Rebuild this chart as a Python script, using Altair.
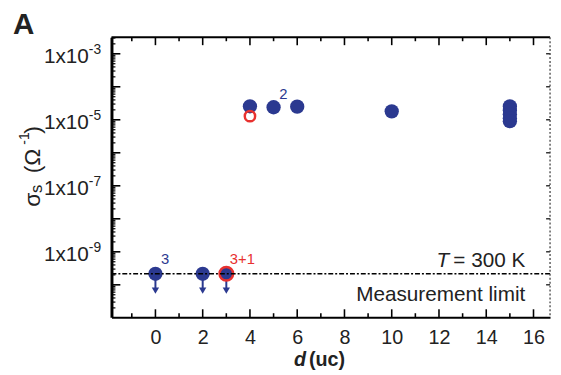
import altair as alt
import pandas as pd

W, H = 445, 284
NAVY = "#2b3990"
RED = "#e8312f"
INK = "#222222"
FONT = "Liberation Sans"

# ---- data ----
d_film = [4, 5, 6, 10, 15, 15, 15, 15, 15]
sigma_film = [2.56e-5, 2.4e-5, 2.5e-5, 1.8e-5, 2.56e-5, 1.95e-5, 1.48e-5, 1.12e-5, 9.1e-6]
d_open = [4]
sigma_open = [1.29e-5]
d_limit = [0, 2, 3]
limit_value = 2.16e-10
arrow_tip = 6.7e-11
d_limit_ring = [3]

point_label_text = ["3", "3+1", "2"]
point_label_x = [0.24, 3.15, 5.24]
point_label_y = [6.05e-10, 6.05e-10, 5.85e-5]
point_label_color = [NAVY, RED, NAVY]

x_major = [0, 2, 4, 6, 8, 10, 12, 14, 16]
x_minor = [-1, 1, 3, 5, 7, 9, 11, 13, 15]
y_label_vals = [1e-3, 1e-5, 1e-7, 1e-9]
y_label_exp = ["-3", "-5", "-7", "-9"]
y_decades = [1e-3, 1e-4, 1e-5, 1e-6, 1e-7, 1e-8, 1e-9, 1e-10]
Y_LO, Y_HI = 10 ** -10.98, 10 ** -2.5
y_minor = [k * 10.0 ** e for e in range(-11, -2) for k in range(2, 10)
           if Y_LO <= k * 10.0 ** e <= Y_HI]

xs = alt.Scale(domain=[-1.86, 16.7], nice=False, zero=False)
ys = alt.Scale(type="log", domain=[Y_LO, Y_HI], nice=False)

XA = alt.Axis(values=x_major, ticks=False, grid=False, domain=True, domainWidth=2,
              domainColor="black", labelFontSize=20, labelFont=FONT, labelColor=INK,
              labelPadding=11, title=None, format="d")
YA = alt.Axis(labels=False, ticks=False, grid=False, domain=True, domainWidth=3,
              domainColor="black", title=None)


def X(f):
    return alt.X(f, scale=xs, axis=XA)


def Y(f):
    return alt.Y(f, scale=ys, axis=YA)


film = pd.DataFrame({"d": d_film, "s": sigma_film})
opn = pd.DataFrame({"d": d_open, "s": sigma_open})
lim = pd.DataFrame({"d": d_limit, "s": [limit_value] * len(d_limit), "t": [arrow_tip] * len(d_limit)})
ring = pd.DataFrame({"d": d_limit_ring, "s": [limit_value] * len(d_limit_ring)})
plabels = pd.DataFrame({"txt": point_label_text, "x": point_label_x, "y": point_label_y, "c": point_label_color})

dots = alt.Chart(film).mark_circle(size=210, color=NAVY, opacity=1).encode(x=X("d:Q"), y=Y("s:Q"))
open_ring = alt.Chart(opn).mark_point(shape="circle", filled=False, size=110, color=RED,
                                      strokeWidth=2.5, opacity=1).encode(x=X("d:Q"), y=Y("s:Q"))

arrows = alt.Chart(lim).mark_rule(color=NAVY, strokeWidth=2).encode(x=X("d:Q"), y=Y("s:Q"), y2="t:Q")
heads = alt.Chart(lim).mark_point(shape="triangle-down", filled=True, size=55, color=NAVY,
                                  opacity=1).encode(x=X("d:Q"), y=Y("t:Q"))
lim_dots = alt.Chart(lim).mark_circle(size=210, color=NAVY, opacity=1).encode(x=X("d:Q"), y=Y("s:Q"))
lim_ring = alt.Chart(ring).mark_point(shape="circle", filled=False, size=190, color=RED,
                                      strokeWidth=2.5, opacity=1).encode(x=X("d:Q"), y=Y("s:Q"))

dash = alt.Chart(pd.DataFrame({"s": [limit_value]})).mark_rule(
    color="black", strokeWidth=1.6, strokeDash=[5, 2, 2, 2]).encode(
    y=Y("s:Q"), x=alt.value(0), x2=alt.value(W))

pl = alt.Chart(plabels).mark_text(align="left", baseline="middle", fontSize=15, font=FONT).encode(
    x=X("x:Q"), y=Y("y:Q"), text="txt:N", color=alt.Color("c:N", scale=None))

# annotations
ann = pd.DataFrame({"x": [11.9], "y": [5.3e-10]})
t_italic = alt.Chart(ann).mark_text(align="left", baseline="middle", fontSize=21, font=FONT,
                                    fontStyle="italic", color=INK, text="T").encode(x=X("x:Q"), y=Y("y:Q"))
ann2 = pd.DataFrame({"x": [15.65], "y": [5.3e-10]})
t_rest = alt.Chart(ann2).mark_text(align="right", baseline="middle", fontSize=21, font=FONT,
                                   color=INK, text="= 300 K").encode(x=X("x:Q"), y=Y("y:Q"))
ann3 = pd.DataFrame({"x": [15.65], "y": [4.8e-11]})
meas = alt.Chart(ann3).mark_text(align="right", baseline="middle", fontSize=21, font=FONT,
                                 color=INK, text="Measurement limit").encode(x=X("x:Q"), y=Y("y:Q"))

# y tick labels with superscripts
ylab = pd.DataFrame({"v": y_label_vals, "e": y_label_exp})
ylab_main = alt.Chart(ylab).mark_text(align="right", baseline="middle", dy=3, fontSize=21,
                                      font=FONT, color=INK, text="1x10").encode(
    y=Y("v:Q"), x=alt.value(-23))
ylab_exp = alt.Chart(ylab).mark_text(align="left", baseline="middle", dy=-4, fontSize=14,
                                     font=FONT, color=INK).encode(
    y=Y("v:Q"), x=alt.value(-23), text="e:N")

# x title: italic d + (uc)
xt = pd.DataFrame({"x": [5.86]})
xt_d = alt.Chart(xt).mark_text(align="left", baseline="alphabetic", fontSize=20, font=FONT,
                               fontWeight="bold", fontStyle="italic", color=INK, text="d").encode(
    x=X("x:Q"), y=alt.value(H + 50))
xt2 = pd.DataFrame({"x": [6.5]})
xt_uc = alt.Chart(xt2).mark_text(align="left", baseline="alphabetic", fontSize=20, font=FONT,
                                 fontWeight="bold", color=INK, text="(uc)").encode(
    x=X("x:Q"), y=alt.value(H + 50))


# y title pieces (rotated)
def rot(txt, x, y, size):
    return alt.Chart(pd.DataFrame({"k": [0]})).mark_text(
        align="left", baseline="alphabetic", angle=270, fontSize=size, font=FONT,
        color=INK, text=txt).encode(x=alt.value(x), y=alt.value(y))


ytitle = [rot("σ", -73, 172, 23), rot("s", -70, 158, 17), rot("(Ω", -73, 138, 23),
          rot("-1", -84, 109, 14), rot(")", -73, 98, 23)]

panel = alt.Chart(pd.DataFrame({"k": [0]})).mark_text(
    align="left", baseline="alphabetic", fontSize=30, font=FONT, fontWeight="bold",
    color=INK, text="A").encode(x=alt.value(-100), y=alt.value(-3))


# inward ticks
def xticks(vals, y0, y1):
    return alt.Chart(pd.DataFrame({"v": vals})).mark_rule(color="black", strokeWidth=1.6).encode(
        x=X("v:Q"), y=alt.value(y0), y2=alt.value(y1))


def yticks(vals, x0, x1, sw=1.6):
    return alt.Chart(pd.DataFrame({"v": vals})).mark_rule(color="black", strokeWidth=sw).encode(
        y=Y("v:Q"), x=alt.value(x0), x2=alt.value(x1))


ticks = [xticks(x_major, H, H - 8), xticks(x_minor, H, H - 4),
         xticks(x_major, 0, 8), xticks(x_minor, 0, 4),
         yticks(y_decades, 0, 9), yticks(y_minor, 0, 4, 1.2),
         yticks(y_decades, W, W - 4, 1.2)]

frame_top = alt.Chart(pd.DataFrame({"k": [0]})).mark_rule(color="black", strokeWidth=2).encode(
    x=alt.value(0), x2=alt.value(W), y=alt.value(0))
frame_right = alt.Chart(pd.DataFrame({"k": [0]})).mark_rule(
    color="#444444", strokeWidth=1.3, strokeDash=[2, 2]).encode(
    x=alt.value(W), y=alt.value(0), y2=alt.value(H))

chart = alt.layer(
    dots, open_ring, arrows, heads, lim_dots, lim_ring, dash, pl,
    t_italic, t_rest, meas, ylab_main, ylab_exp, xt_d, xt_uc, *ytitle, panel,
    *ticks, frame_top, frame_right
).properties(
    width=W, height=H, autosize=alt.AutoSizeParams(type="none"),
    padding={"left": 105, "top": 27, "right": 3, "bottom": 58}
).configure_view(stroke=None)

chart.save("out.html", embed_options={"renderer": "svg", "actions": False})
